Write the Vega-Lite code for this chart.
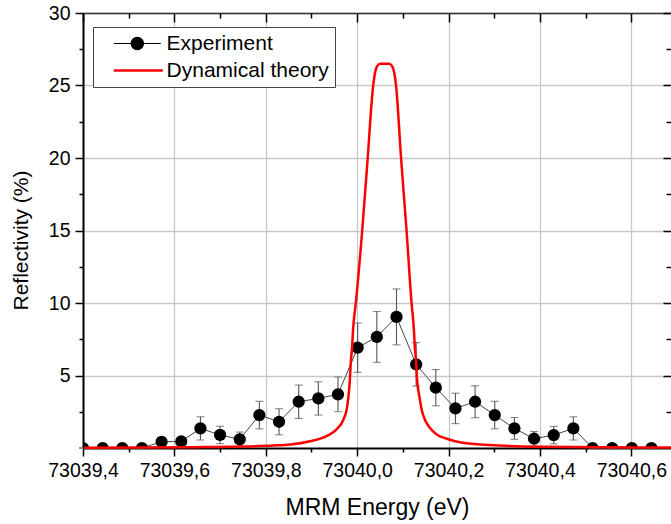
{
  "$schema": "https://vega.github.io/schema/vega-lite/v6.json",
  "width": 588,
  "height": 435,
  "autosize": {"type": "none"},
  "padding": {"left": 83, "top": 13, "right": 0, "bottom": 76},
  "config": {
    "font": "Liberation Sans",
    "view": {"stroke": null},
    "axis": {"labelColor": "#000", "titleColor": "#000", "tickColor": "#000", "domainColor": "#000", "titleFontWeight": "normal", "labelFlush": false, "labelOverlap": false}
  },
  "datasets": {
    "exp": [
      {"x": 73039.400, "y": 0, "lo": 0, "hi": 0},
      {"x": 73039.443, "y": 0, "lo": 0, "hi": 0},
      {"x": 73039.486, "y": 0, "lo": 0, "hi": 0},
      {"x": 73039.529, "y": 0, "lo": 0, "hi": 0},
      {"x": 73039.572, "y": 0.43, "lo": 0.15, "hi": 0.71},
      {"x": 73039.615, "y": 0.45, "lo": 0.15, "hi": 0.75},
      {"x": 73039.657, "y": 1.35, "lo": 0.55, "hi": 2.15},
      {"x": 73039.700, "y": 0.9, "lo": 0.3, "hi": 1.5},
      {"x": 73039.743, "y": 0.6, "lo": 0.1, "hi": 1.1},
      {"x": 73039.786, "y": 2.27, "lo": 1.32, "hi": 3.22},
      {"x": 73039.829, "y": 1.81, "lo": 0.91, "hi": 2.71},
      {"x": 73039.872, "y": 3.19, "lo": 2.04, "hi": 4.34},
      {"x": 73039.915, "y": 3.42, "lo": 2.27, "hi": 4.57},
      {"x": 73039.958, "y": 3.7, "lo": 2.5, "hi": 4.9},
      {"x": 73040.001, "y": 6.92, "lo": 5.22, "hi": 8.62},
      {"x": 73040.043, "y": 7.66, "lo": 5.91, "hi": 9.41},
      {"x": 73040.086, "y": 9.04, "lo": 7.11, "hi": 10.97},
      {"x": 73040.129, "y": 5.77, "lo": 4.27, "hi": 7.27},
      {"x": 73040.172, "y": 4.16, "lo": 2.91, "hi": 5.41},
      {"x": 73040.215, "y": 2.73, "lo": 1.68, "hi": 3.78},
      {"x": 73040.258, "y": 3.19, "lo": 2.09, "hi": 4.29},
      {"x": 73040.301, "y": 2.27, "lo": 1.32, "hi": 3.22},
      {"x": 73040.344, "y": 1.35, "lo": 0.6, "hi": 2.1},
      {"x": 73040.387, "y": 0.64, "lo": 0.14, "hi": 1.14},
      {"x": 73040.430, "y": 0.89, "lo": 0.29, "hi": 1.49},
      {"x": 73040.473, "y": 1.35, "lo": 0.55, "hi": 2.15},
      {"x": 73040.515, "y": 0, "lo": 0, "hi": 0},
      {"x": 73040.558, "y": 0, "lo": 0, "hi": 0},
      {"x": 73040.601, "y": 0, "lo": 0, "hi": 0},
      {"x": 73040.644, "y": 0, "lo": 0, "hi": 0}
    ],
    "theory": [
      {"x": 73039.402, "y": 0.025},
      {"x": 73039.641, "y": 0.06},
      {"x": 73039.744, "y": 0.10},
      {"x": 73039.816, "y": 0.17},
      {"x": 73039.853, "y": 0.24},
      {"x": 73039.897, "y": 0.47},
      {"x": 73039.933, "y": 0.82},
      {"x": 73039.955, "y": 1.28},
      {"x": 73039.970, "y": 1.97},
      {"x": 73039.977, "y": 2.66},
      {"x": 73039.981, "y": 3.58},
      {"x": 73039.984, "y": 4.73},
      {"x": 73039.986, "y": 5.89},
      {"x": 73039.989, "y": 7.04},
      {"x": 73039.991, "y": 8.19},
      {"x": 73039.997, "y": 10.0},
      {"x": 73040.011, "y": 15.0},
      {"x": 73040.023, "y": 20.0},
      {"x": 73040.035, "y": 25.0},
      {"x": 73040.043, "y": 26.3},
      {"x": 73040.050, "y": 26.5},
      {"x": 73040.070, "y": 26.5},
      {"x": 73040.077, "y": 26.3},
      {"x": 73040.085, "y": 25.0},
      {"x": 73040.096, "y": 20.0},
      {"x": 73040.108, "y": 15.0},
      {"x": 73040.119, "y": 10.0},
      {"x": 73040.124, "y": 8.19},
      {"x": 73040.126, "y": 7.04},
      {"x": 73040.129, "y": 5.89},
      {"x": 73040.131, "y": 4.73},
      {"x": 73040.136, "y": 3.58},
      {"x": 73040.141, "y": 2.66},
      {"x": 73040.148, "y": 1.97},
      {"x": 73040.159, "y": 1.4},
      {"x": 73040.174, "y": 0.93},
      {"x": 73040.196, "y": 0.64},
      {"x": 73040.225, "y": 0.4},
      {"x": 73040.312, "y": 0.17},
      {"x": 73040.407, "y": 0.09},
      {"x": 73040.687, "y": 0.03}
    ],
    "series": [
      {"series": "Experiment"},
      {"series": "Dynamical theory"}
    ]
  },
  "resolve": {"axis": {"x": "independent", "y": "independent"}},
  "layer": [
    {
      "data": {"name": "exp"},
      "mark": {"type": "line", "color": "#444", "strokeWidth": 1},
      "encoding": {
        "x": {"field": "x", "type": "quantitative", "scale": {"domain": [73039.4, 73040.6867], "nice": false, "zero": false},
          "axis": {"orient": "bottom", "values": [73039.4, 73039.6, 73039.8, 73040.0, 73040.2, 73040.4, 73040.6],
            "labelExpr": "replace(format(datum.value, '.1f'), '.', ',')", "labelFontSize": 19.5, "labelPadding": 5,
            "tickSize": 8, "tickWidth": 1.5, "domain": true, "domainWidth": 2,
            "grid": true, "gridColor": "#c8c8c8", "gridWidth": 1.3,
            "title": "MRM Energy (eV)", "titleFontSize": 23, "titlePadding": 17}},
        "y": {"field": "y", "type": "quantitative", "scale": {"domain": [0, 30], "nice": false, "zero": false},
          "axis": {"orient": "left", "values": [5, 10, 15, 20, 25, 30], "labelFontSize": 19.5, "labelPadding": 5,
            "tickSize": 8, "tickWidth": 1.5, "domain": true, "domainWidth": 2,
            "grid": true, "gridColor": "#c8c8c8", "gridWidth": 1.3,
            "title": "Reflectivity (%)", "titleFontSize": 21, "titlePadding": 17, "titleY": 227}}
      }
    },
    {
      "data": {"name": "exp"},
      "mark": {"type": "rule", "color": "#555", "strokeWidth": 1.1},
      "encoding": {
        "x": {"field": "x", "type": "quantitative",
          "axis": {"orient": "bottom", "values": [73039.5, 73039.7, 73039.9, 73040.1, 73040.3, 73040.5],
            "labels": false, "tickSize": 4, "tickWidth": 1.5, "domain": false, "grid": false, "title": null}},
        "y": {"field": "lo", "type": "quantitative",
          "axis": {"orient": "left", "values": [2.5, 7.5, 12.5, 17.5, 22.5, 27.5],
            "labels": false, "tickSize": 4, "tickWidth": 1.5, "domain": false, "grid": false, "title": null}},
        "y2": {"field": "hi"}
      }
    },
    {
      "data": {"name": "exp"},
      "mark": {"type": "tick", "orient": "horizontal", "color": "#555", "size": 8, "thickness": 1.1},
      "encoding": {
        "x": {"field": "x", "type": "quantitative",
          "axis": {"orient": "top", "values": [73039.4, 73039.6, 73039.8, 73040.0, 73040.2, 73040.4, 73040.6],
            "labels": false, "tickSize": -9, "tickWidth": 1.5, "domain": true, "domainWidth": 1.5, "domainColor": "#333", "grid": false, "title": null}},
        "y": {"field": "lo", "type": "quantitative",
          "axis": {"orient": "right", "values": [5, 10, 15, 20, 25, 30],
            "labels": false, "tickSize": -8, "tickWidth": 1.5, "domain": false, "grid": false, "title": null}}
      }
    },
    {
      "data": {"name": "exp"},
      "mark": {"type": "tick", "orient": "horizontal", "color": "#555", "size": 8, "thickness": 1.1},
      "encoding": {
        "x": {"field": "x", "type": "quantitative",
          "axis": {"orient": "top", "values": [73039.5, 73039.7, 73039.9, 73040.1, 73040.3, 73040.5],
            "labels": false, "tickSize": -5, "tickWidth": 1.5, "domain": false, "grid": false, "title": null}},
        "y": {"field": "hi", "type": "quantitative",
          "axis": {"orient": "right", "values": [2.5, 7.5, 12.5, 17.5, 22.5, 27.5],
            "labels": false, "tickSize": -5, "tickWidth": 1.5, "domain": false, "grid": false, "title": null}}
      }
    },
    {
      "data": {"name": "exp"},
      "mark": {"type": "point", "filled": true, "size": 150, "opacity": 1, "clip": true, "color": "#000000"},
      "encoding": {
        "x": {"field": "x", "type": "quantitative", "axis": null},
        "y": {"field": "y", "type": "quantitative", "axis": null}
      }
    },
    {
      "data": {"name": "theory"},
      "mark": {"type": "line", "strokeWidth": 2.5, "interpolate": "monotone", "color": "#ff0000"},
      "encoding": {
        "x": {"field": "x", "type": "quantitative", "axis": null},
        "y": {"field": "y", "type": "quantitative", "axis": null}
      }
    },
    {
      "data": {"name": "series"},
      "mark": {"type": "point", "filled": true, "opacity": 0},
      "encoding": {
        "color": {"field": "series", "type": "nominal",
          "scale": {"domain": ["Experiment", "Dynamical theory"], "range": ["#000000", "#ff0000"]},
          "legend": {
            "title": null, "orient": "none", "legendX": 10, "legendY": 14,
            "padding": 6, "strokeColor": "#444", "fillColor": "#ffffff", "cornerRadius": 0,
            "labelFontSize": 21, "labelColor": "#000", "labelLimit": 400,
            "symbolSize": 180, "symbolOpacity": 1, "symbolStrokeWidth": 0, "labelOffset": 46.6, "rowPadding": 5
          }},
        "shape": {"field": "series", "type": "nominal",
          "scale": {"domain": ["Experiment", "Dynamical theory"],
            "range": ["M0.64,-0.08H3.15V0.08H0.64ZM5.15,0A1,1 0 1,1 3.15,0A1,1 0 1,1 5.15,0ZM5.15,-0.08H7.65V0.08H5.15Z", "M0.64,-0.19H7.95V0.19H0.64Z"]},
          "legend": {
            "title": null, "orient": "none", "legendX": 10, "legendY": 14,
            "padding": 6, "strokeColor": "#444", "fillColor": "#ffffff", "cornerRadius": 0,
            "labelFontSize": 21, "labelColor": "#000", "labelLimit": 400,
            "symbolSize": 180, "symbolOpacity": 1, "symbolStrokeWidth": 0, "labelOffset": 46.6, "rowPadding": 5
          }}
      }
    }
  ]
}
